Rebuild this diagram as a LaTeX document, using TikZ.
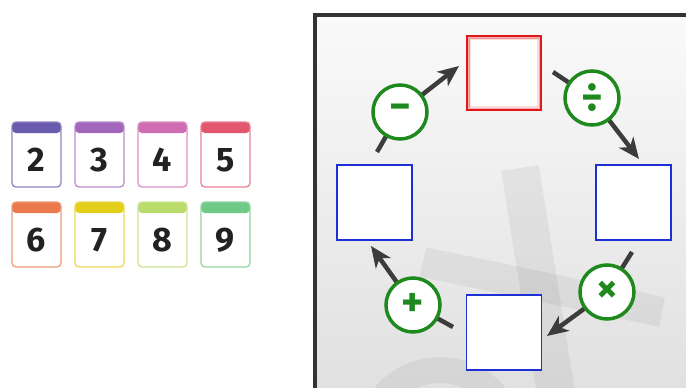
\documentclass[tikz,border=0pt]{standalone}
\usepackage{fontspec}
\setmainfont{Fira Sans}
\usetikzlibrary{arrows.meta,calc}
\definecolor{cA}{HTML}{6A5AAE}
\definecolor{cB}{HTML}{A266BA}
\definecolor{cC}{HTML}{D06CB2}
\definecolor{cD}{HTML}{E2566E}
\definecolor{cE}{HTML}{EA7A4C}
\definecolor{cF}{HTML}{E4CE1C}
\definecolor{cG}{HTML}{BADC6C}
\definecolor{cH}{HTML}{6ECA86}
\definecolor{digit}{HTML}{222222}
\definecolor{opgreen}{HTML}{1E8A1E}
\definecolor{arrgray}{HTML}{3C3C3C}
\definecolor{boxblue}{HTML}{1F2FD6}
\definecolor{boxred}{HTML}{E01818}
\tikzset{
  card/.style={draw=#1!75, line width=1.3pt, rounded corners=4pt, fill=white,
    minimum width=49pt, minimum height=65pt, inner sep=0pt,
    path picture={\fill[#1] (path picture bounding box.north west) rectangle ([yshift=-11pt]path picture bounding box.north east);}},
  num/.style={font=\fontsize{34}{34}\selectfont\bfseries, text=digit, inner sep=0pt},
  bluebox/.style={draw=boxblue, line width=1.8pt, fill=white, minimum width=75pt, minimum height=75pt, inner sep=0pt},
  redbox/.style={draw=boxred, line width=2.2pt, fill=white, minimum width=74pt, minimum height=74pt, inner sep=0pt},
  opcirc/.style={circle, draw=opgreen, line width=3.5pt, fill=white, minimum size=54pt, inner sep=0pt,
    font=\fontsize{42}{42}\selectfont\bfseries, text=opgreen},
  arr/.style={draw=arrgray, line width=4.5pt, -{Stealth[length=21pt,width=18pt,inset=6pt]}},
  wmark/.style={draw=black, draw opacity=0.05, line cap=butt}
}
\begin{document}
\begin{tikzpicture}[x=1pt,y=-1pt]
\useasboundingbox (0,0) rectangle (686,388);
\fill[white] (0,0) rectangle (686,388);
% cards
\foreach \c/\x/\y/\d in {cA/36.5/154.5/2, cB/99.5/154.5/3, cC/162.5/154.5/4, cD/225.5/154.5/5,
                         cE/36.5/234.5/6, cF/99.5/234.5/7, cG/162.5/234.5/8, cH/225.5/234.5/9}{
  \node[card=\c] (card\d) at (\x,\y) {};
  \node[num] (num\d) at ($(card\d.center)+(0,5.5)$) {\d};
}
% panel
\shade[top color=white!98!black, bottom color=black!12] (316,16) rectangle (686,388);
\draw[line width=4pt, draw=black!80] (314.5,390) -- (314.5,14.5) -- (690,14.5);
% watermark
\draw[wmark, line width=38pt] (520,168) -- (557,400);
\draw[wmark, line width=30pt] (423,262) -- (662,312);
\draw[wmark, line width=26pt] (440,442) circle (72);
% boxes
\node[redbox] (top) at (504,73) {};
\draw[boxred, opacity=0.35, line width=2pt] ($(top.north west)+(2.6,2.6)$) rectangle ($(top.south east)+(-2.6,-2.6)$);
\draw[boxred, opacity=0.15, line width=2pt] ($(top.north west)+(4.4,4.4)$) rectangle ($(top.south east)+(-4.4,-4.4)$);
\node[bluebox] (left) at (374.5,202.5) {};
\node[bluebox] (right) at (633.5,202.5) {};
\node[bluebox] (bottom) at (504,332.5) {};
% operator circles (positions)
\coordinate (mc) at (400,112);
\coordinate (dc) at (592,98);
\coordinate (tc) at (607,292);
\coordinate (pc) at (413,305);
% arrow ends
\coordinate (m1) at (377,152); \coordinate (m2) at (459,66);
\coordinate (d1) at (553,72);  \coordinate (d2) at (639,159);
\coordinate (t1) at (632,252); \coordinate (t2) at (547,336);
\coordinate (p1) at (453,327); \coordinate (p2) at (371,246);
\draw[arr] (m1) -- (mc) -- (m2);
\draw[arr] (d1) -- (dc) -- (d2);
\draw[arr] (t1) -- (tc) -- (t2);
\draw[arr] (p1) -- (pc) -- (p2);
\node[opcirc] (minus) at (mc) {−};
\node[opcirc] (divide) at (dc) {÷};
\node[opcirc] (times) at (tc) {×};
\node[opcirc] (plus) at (pc) {+};
\end{tikzpicture}
\end{document}
